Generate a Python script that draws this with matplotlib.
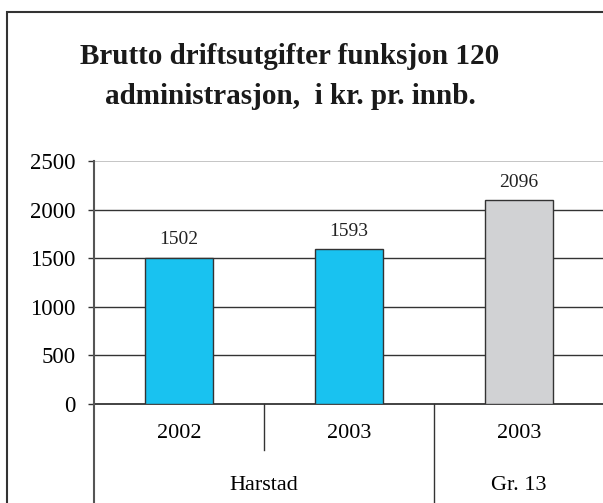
import matplotlib
matplotlib.use("Agg")
import matplotlib.pyplot as plt
from matplotlib.patches import Rectangle
from matplotlib.lines import Line2D
import matplotlib.transforms as mtransforms

years = ["2002", "2003", "2003"]
groups = ["Harstad", "Gr. 13"]
group_spans = [(0, 1), (2, 2)]
values = [1502, 1593, 2096]
colors = ["#19C2F0", "#19C2F0", "#D1D2D4"]
yticks = [0, 500, 1000, 1500, 2000, 2500]
title_lines = ["Brutto driftsutgifter funksjon 120", "administrasjon,  i kr. pr. innb."]

plt.rcParams['font.family'] = ['Liberation Serif', 'DejaVu Serif']

W, H = 603, 503
fig = plt.figure(figsize=(W/100, H/100), dpi=100)

def fy(py):
    return 1 - py / H

# outer border
fig.patches.append(Rectangle((7/W, -0.05), 1.1, 1 - 12/H + 0.05, transform=fig.transFigure,
                             fill=False, edgecolor="#333333", linewidth=1.5))

ax = fig.add_axes([94/W, (H-404)/H, (604-94)/W, (404-161)/H])
x = list(range(len(values)))
ax.bar(x, values, width=0.4, color=colors, edgecolor="#333333", linewidth=1.0, zorder=3)
for xi, v in zip(x, values):
    ax.annotate(str(v), (xi, v), xytext=(0, 13), textcoords="offset points",
                ha="center", va="center", fontsize=14, color="#222222")

ax.set_xlim(-0.5, len(values) - 0.5)
ax.set_ylim(0, 2500)
ax.set_yticks(yticks)
ax.set_yticklabels([str(t) for t in yticks], fontsize=16.5)
ax.tick_params(axis="y", length=4.5, width=1, color="#333333", direction="out", pad=9)
ax.set_xticks([])
for t in yticks[1:-1]:
    ax.axhline(t, color="#333333", linewidth=1.0, zorder=1)
ax.axhline(2500, color="#BBBBBB", linewidth=1.2, zorder=1)
for s in ["top", "right"]:
    ax.spines[s].set_visible(False)
ax.spines["left"].set_color("#555555")
ax.spines["left"].set_linewidth(1.5)
ax.spines["bottom"].set_color("#222222")
ax.spines["bottom"].set_linewidth(1.2)

# multi-level category labels
trans = mtransforms.blended_transform_factory(ax.transData, fig.transFigure)
for xi, yl in zip(x, years):
    ax.text(xi, fy(433), yl, transform=trans, ha="center", va="center", fontsize=16)
for g, (a, b) in zip(groups, group_spans):
    ax.text((a + b) / 2, fy(485), g, transform=trans, ha="center", va="center", fontsize=16)
# left axis extension
fig.add_artist(Line2D([-0.5, -0.5], [fy(404), fy(503)], transform=trans, color="#555555", linewidth=1.5))
# within group separator
fig.add_artist(Line2D([0.5, 0.5], [fy(404), fy(450)], transform=trans, color="#333333", linewidth=1.0))
# group separator
fig.add_artist(Line2D([1.5, 1.5], [fy(404), fy(503)], transform=trans, color="#333333", linewidth=1.0))

for line, py in zip(title_lines, [56, 96]):
    fig.text(290/W, fy(py), line, ha="center", va="center", fontsize=21, fontweight="bold",
             color="#1a1a1a")

fig.savefig("out.png", dpi=100)
